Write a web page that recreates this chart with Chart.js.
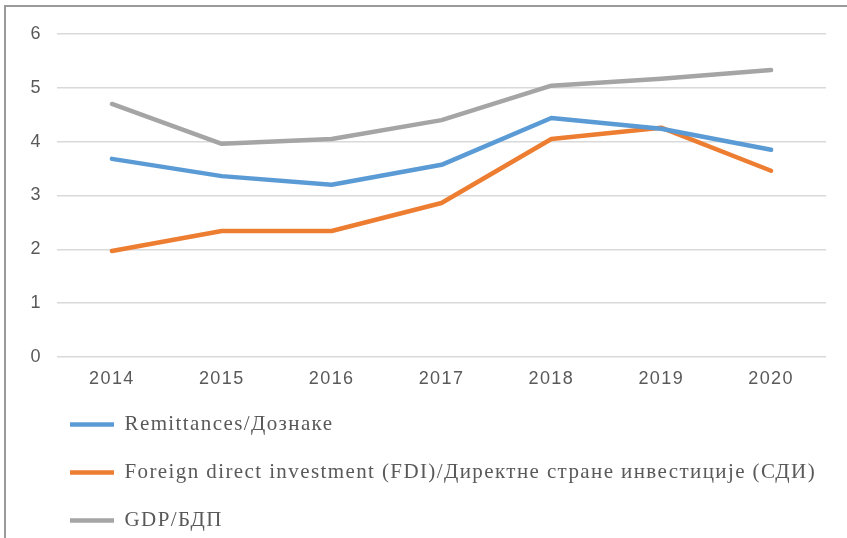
<!DOCTYPE html>
<html>
<head>
<meta charset="utf-8">
<script src="https://cdn.jsdelivr.net/npm/chart.js@4/dist/chart.umd.min.js"></script>
<style>
  html, body { margin: 0; padding: 0; background: #ffffff; }
  #wrap { position: relative; width: 847px; height: 538px; overflow: hidden; }
  #frame { position: absolute; left: 4px; top: 5px; width: 900px; height: 600px;
           border-top: 2px solid #9a9a9a; border-left: 2px solid #9a9a9a; pointer-events: none; }
  canvas { position: absolute; left: 0; top: 0; }
</style>
</head>
<body>
<div id="wrap">
  <canvas id="c" width="847" height="538"></canvas>
  <div id="frame"></div>
</div>
<script>
const years = ['2014', '2015', '2016', '2017', '2018', '2019', '2020'];
const remittances = [3.68, 3.36, 3.20, 3.57, 4.44, 4.24, 3.85];
const fdi = [1.97, 2.34, 2.34, 2.86, 4.05, 4.26, 3.46];
const gdp = [4.70, 3.96, 4.05, 4.40, 5.04, 5.17, 5.33];
const seriesNames = ['Remittances/Дознаке', 'Foreign direct investment (FDI)/Директне стране инвестиције (СДИ)', 'GDP/БДП'];
const yMin = 0, yMax = 6, yStep = 1;

const colors = ['#5B9BD5', '#ED7D31', '#A5A5A5'];
const legendFont = 21;
const rowGap = 48;
const legPad = rowGap - legendFont;
const legendStartX = 70;
const padLeft = 16;
const plotLeft = 57;

const spacingPlugin = {
  id: 'spacing',
  beforeDraw(chart) { chart.ctx.letterSpacing = '1.4px'; }
};
const legendShift = {
  id: 'legendShift',
  afterLayout(chart) {
    const l = chart.legend;
    if (!l) return;
    const dx = (legendStartX - legPad) - l.left;
    l.left += dx; l.right += dx;
  }
};

function mk(label, data, color) {
  return {
    label, data,
    borderColor: color, backgroundColor: color,
    borderWidth: 4.5, pointRadius: 0, pointHoverRadius: 0,
    tension: 0, borderCapStyle: 'round', borderJoinStyle: 'round', fill: false
  };
}

new Chart(document.getElementById('c'), {
  type: 'line',
  data: {
    labels: years,
    datasets: [
      mk(seriesNames[0], remittances, colors[0]),
      mk(seriesNames[1], fdi, colors[1]),
      mk(seriesNames[2], gdp, colors[2])
    ]
  },
  plugins: [spacingPlugin, legendShift],
  options: {
    responsive: false,
    animation: false,
    devicePixelRatio: 1,
    layout: { padding: { left: padLeft, right: 21, top: 34, bottom: -3 } },
    plugins: {
      tooltip: { enabled: false },
      legend: {
        position: 'bottom',
        align: 'start',
        fullSize: true,
        labels: {
          usePointStyle: true,
          pointStyle: 'line',
          pointStyleWidth: 44,
          padding: legPad,
          color: '#595959',
          font: { family: '"Liberation Serif", "Times New Roman", serif', size: legendFont }
        }
      }
    },
    scales: {
      x: {
        offset: true,
        grid: { display: false, drawTicks: false },
        border: { display: false },
        ticks: { color: '#595959', padding: 11, font: { family: '"Liberation Sans", Arial, sans-serif', size: 18 } },
        afterFit(s) { s.height = 30; }
      },
      y: {
        min: yMin, max: yMax,
        grid: { color: '#d9d9d9', lineWidth: 1.5, drawTicks: false },
        border: { display: false },
        ticks: { stepSize: yStep, color: '#595959', padding: 15, font: { family: '"Liberation Sans", Arial, sans-serif', size: 18 } },
        afterFit(s) { s.width = plotLeft - padLeft; }
      }
    }
  }
});
</script>
</body>
</html>
